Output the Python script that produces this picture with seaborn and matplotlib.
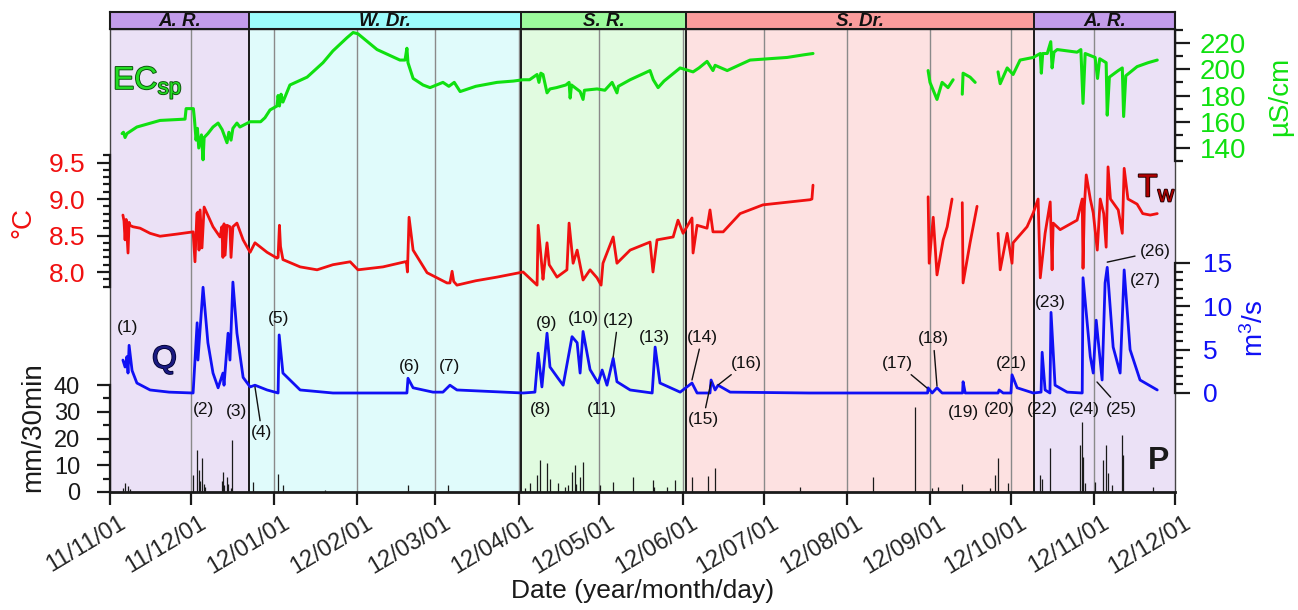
import numpy as np
import pandas as pd
import matplotlib
matplotlib.use('Agg')
import matplotlib.pyplot as plt
import matplotlib.patheffects as pe
import matplotlib.dates as mdates
from matplotlib.ticker import FixedLocator
from matplotlib.transforms import ScaledTranslation
import seaborn as sns

sns.set_theme(style='white')
plt.rcParams['font.family'] = ['Liberation Sans', 'DejaVu Sans']
plt.rcParams['mathtext.fontset'] = 'custom'
plt.rcParams['mathtext.rm'] = 'Liberation Sans'
plt.rcParams['mathtext.it'] = 'Liberation Sans:italic'
plt.rcParams['mathtext.bf'] = 'Liberation Sans:bold'

# ---------------- data ----------------
T0 = pd.Timestamp('2011-11-01')
month_ticks = pd.date_range('2011-11-01', '2012-12-01', freq='MS')
season_names = ['A. R.', 'W. Dr.', 'S. R.', 'S. Dr.', 'A. R.']
season_bounds = ['2011-11-01', '2011-12-22 16:00', '2012-04-02 00:00',
                 '2012-06-02 04:00', '2012-10-09 14:00', '2012-12-01']
season_band_colors = ['#c39ceb', '#9cfcfc', '#9cfa9c', '#fb9c9c', '#c39ceb']
season_bg_colors = ['#ebe1f6', '#e0fbfb', '#e1fbe0', '#fde1e1', '#ebe1f6']

# specific electrical conductance (uS/cm); NaN marks a data gap
ec_day = [4.5, 5.0, 5.6, 6.3, 10.0, 18.6, 27.9, 28.3, 31.0, 31.4, 32.0, 32.5, 33.0, 34.0, 34.6,
          35.0, 36.4, 38.3, 40.2, 41.7, 43.5, 44.2, 45.0, 45.7, 47.2, 48.3, 52.1, 56.0, 57.6, 59.5,
          62.1, 62.5, 63.0, 63.6, 64.3, 66.9, 73.3, 79.2, 82.9, 88.1, 90.4, 92.2, 99.3, 107.8, 109.7,
          110.4, 110.8, 112.7, 116.4, 119.0, 123.8, 126.0, 128.0, 130.2, 136.0, 143.9, 150.0, 153.6,
          156.0, 158.8, 159.5, 160.2, 161.0, 162.5, 163.6, 166.0, 169.5, 170.7, 171.1, 171.6, 174.8,
          175.9, 176.4, 181.1, 184.0, 186.7, 188.5, 189.0, 193.4, 200.8, 202.0, 203.8, 206.0, 212.0,
          216.8, 219.0, 222.0, 224.2, 225.0, 229.5, 238.0, 251.8, 258.0, 261.4,
          280.0,
          304.2, 304.9, 307.5, 309.4, 311.6, 313.5,
          315.0,
          316.9, 317.2, 319.8, 321.7,
          326.0,
          330.2, 331.0, 333.6, 335.8, 338.4, 343.3, 345.9, 346.3, 346.8, 348.5, 349.8, 350.3, 351.0,
          352.2, 359.6, 361.0, 361.8, 362.6, 366.3, 367.2, 368.0, 370.4, 370.8, 371.6, 374.9, 376.4,
          376.9, 377.7, 381.9, 386.0, 389.4]
ec_val = [151, 152, 148, 151, 156, 161, 162, 170, 170, 162, 146, 155, 140, 150, 131,
          148, 151, 156, 159, 154, 144, 152, 146, 155, 159, 156, 160, 160, 163, 169,
          172, 180, 172, 181, 175, 188, 194, 205, 214, 224, 228, 227, 215, 207, 207,
          216, 205, 193, 188, 186, 190, 187, 190, 183, 187, 190, 191, 192,
          192, 196, 190, 197, 196, 182, 185, 186, 188, 190, 178, 188, 183,
          177, 184, 185, 184, 190, 182, 187, 192, 199, 192, 186, 191, 201,
          198, 201, 206, 199, 203, 199, 207, 209, 211, 212,
          np.nan,
          199, 190, 177, 190, 186, 192,
          np.nan,
          181, 197, 194, 190,
          np.nan,
          198, 189, 201, 196, 207, 209, 212, 197, 212, 212, 221, 201, 213,
          215, 213, 215, 174, 212, 209, 193, 208, 205, 165, 194, 199, 201,
          164, 195, 202, 205, 207]

# water temperature (deg C)
tw_day = [4.8, 5.2, 5.6, 6.0, 6.7, 7.1, 7.4, 8.5, 11.2, 14.9, 18.6, 25.0, 30.9, 31.6, 32.3, 32.7,
          33.1, 33.5, 34.2, 35.0, 38.3, 40.9, 41.6, 42.0, 42.4, 42.8, 43.5, 44.6, 45.0, 45.7, 47.2,
          49.5, 52.1, 53.9, 58.4, 62.1, 62.5, 63.0, 63.4, 64.3, 70.7, 77.0, 82.9, 89.3, 92.2, 101.5,
          109.7, 110.2, 110.6, 111.2, 112.7, 117.9, 125.3, 126.4, 127.2, 127.8, 129.0, 136.0, 143.9,
          153.6, 158.8, 159.2, 160.6, 161.0, 162.5, 163.3, 166.2, 169.9, 170.7, 172.2, 173.7, 175.9,
          178.5, 181.1, 182.6, 183.3, 187.1, 188.5, 193.4, 200.8, 201.9, 203.4, 209.4, 211.2, 213.1,
          216.4, 216.8, 218.3, 222.0, 223.1, 224.2, 228.0, 234.3, 242.8, 260.3, 261.0, 261.4,
          280.0,
          304.2, 304.6, 306.1, 307.5, 309.8, 311.3, 313.1,
          315.0,
          316.9, 317.2, 319.8, 322.4,
          326.0,
          330.2, 331.0, 333.6, 335.4, 335.8, 341.0, 343.3, 345.1, 345.9, 347.7, 349.6, 350.3, 350.7,
          353.3, 359.6, 361.5, 361.8, 362.3, 363.0, 364.5, 365.6, 367.1, 368.2, 369.5, 370.4, 371.1,
          372.0, 374.9, 376.4, 377.1, 378.5, 381.9, 384.0, 386.8, 389.4]
tw_val = [8.78, 8.70, 8.44, 8.72, 8.26, 8.68, 8.64, 8.62, 8.60, 8.53, 8.49, 8.52, 8.55, 8.14, 8.80, 8.82,
          8.30, 8.85, 8.33, 8.89, 8.62, 8.48, 8.62, 8.20, 8.66, 8.23, 8.64, 8.62, 8.20, 8.62, 8.67,
          8.44, 8.27, 8.40, 8.27, 8.19, 8.20, 8.64, 8.35, 8.17, 8.07, 8.03, 8.10, 8.14, 8.03, 8.07,
          8.14, 8.14, 8.00, 8.75, 8.30, 7.99, 7.85, 7.85, 8.01, 7.87, 7.82, 7.88, 7.93,
          8.00, 7.82, 8.64, 8.07, 7.90, 8.40, 8.10, 7.93, 8.03, 8.67, 8.12, 8.30, 7.89,
          8.03, 7.92, 7.82, 8.12, 8.48, 8.12, 8.30, 8.41, 8.00, 8.44, 8.48, 8.71, 8.53,
          8.74, 8.26, 8.64, 8.60, 8.85, 8.55, 8.55, 8.80, 8.92, 8.99, 9.00, 9.19,
          np.nan,
          9.03, 8.12, 8.75, 7.96, 8.44, 8.62, 9.00,
          np.nan,
          8.95, 7.85, 8.40, 8.90,
          np.nan,
          8.53, 8.03, 8.53, 8.12, 8.40, 8.62, 8.81, 9.00, 7.92, 8.53, 8.96, 8.03, 8.67,
          8.58, 8.71, 9.00, 8.05, 8.90, 9.33, 9.00, 8.81, 8.30, 9.00, 8.80, 8.34, 9.44,
          9.00, 8.85, 8.53, 9.42, 9.00, 8.93, 8.80, 8.78, 8.80]

# discharge (m3/s)
q_day = [4.8, 5.6, 6.3, 6.7, 7.1, 8.2, 10.0, 14.9, 22.0, 30.9, 32.4, 32.7, 34.6, 36.4, 38.3, 40.2,
         42.0, 42.4, 43.9, 44.6, 45.7, 47.2, 49.5, 52.1, 53.9, 58.4, 62.5, 62.9, 64.3, 70.7, 82.9,
         110.4, 110.8, 112.7, 120.1, 123.8, 126.4, 129.0, 153.6, 158.0, 159.2, 160.6, 162.5, 163.6,
         166.6, 168.5, 171.8, 173.7, 174.8, 175.9, 178.5, 181.5, 183.0, 184.8, 187.1, 188.5, 193.4,
         201.6, 202.7, 204.5, 212.0, 216.4, 218.3, 223.1, 223.5, 225.0, 226.1, 230.6, 260.0, 304.0,
         304.2, 305.7, 307.5, 309.4, 317.0, 317.2, 318.0, 330.2, 330.6, 332.1, 335.0, 335.4, 337.3,
         343.3, 346.2, 346.6, 347.7, 349.5, 349.9, 351.4, 355.9, 361.5, 361.8, 364.5, 365.6, 366.7,
         368.9, 370.0, 370.8, 373.0, 375.6, 377.1, 379.3, 383.0, 389.4]
q_val = [3.8, 3.0, 4.2, 2.3, 5.5, 2.6, 1.15, 0.35, 0.1, 0.0, 8.1, 3.8, 12.2, 5.8, 2.3, 0.6,
         2.3, 0.9, 6.9, 3.8, 12.8, 6.9, 1.8, 0.7, 0.9, 0.35, 0.0, 6.7, 2.3, 0.35, 0.0,
         0.0, 1.7, 0.6, 0.1, 0.1, 0.9, 0.35, 0.0, 0.1, 4.6, 0.7, 6.9, 3.0,
         1.7, 0.9, 6.5, 5.8, 2.3, 7.1, 2.7, 1.15, 2.65, 0.9, 4.0, 1.3, 0.35,
         0.0, 5.3, 1.15, 0.1, 1.15, 0.0, 0.0, 1.5, 0.35, 0.9, 0.1, 0.0, 0.0,
         0.6, 0.0, 0.6, 0.0, 0.0, 1.3, 0.0, 0.0, 0.35, 0.0, 0.0, 2.1, 0.6,
         0.0, 0.1, 4.7, 0.35, 0.0, 9.3, 0.9, 0.1, 0.0, 13.3, 4.2, 2.3, 8.4,
         1.5, 12.7, 14.5, 5.3, 2.3, 14.2, 5.0, 1.5, 0.35]

# precipitation (mm/30min)
p_day = [4.8, 5.6, 6.7, 7.4, 30.9, 32.4, 33.1, 33.5, 34.2, 35.0, 35.5, 41.6, 42.0, 42.4, 43.5, 44.0,
         45.0, 45.4, 53.2, 62.5, 64.3, 80.0, 110.8, 125.7, 154.3, 156.2, 158.8, 159.9, 162.5, 163.6,
         166.6, 169.0, 170.3, 171.8, 172.9, 173.3, 174.8, 175.9, 182.2, 187.1, 194.5, 201.9, 202.3,
         207.1, 210.1, 216.4, 222.4, 225.0, 256.6, 283.8, 299.4, 305.7, 307.9, 316.9, 327.3, 329.1,
         330.2, 333.9, 345.9, 346.6, 349.6, 360.7, 361.5, 361.9, 362.6, 366.3, 369.3, 370.4, 371.1,
         372.6, 376.4, 376.7, 387.9]
p_val = [1.5, 3.4, 2.2, 1.0, 6.4, 15.7, 8.2, 4.0, 12.7, 3.0, 2.0, 4.0, 7.5, 2.5, 5.6, 3.0,
         1.5, 19.4, 3.7, 6.7, 2.5, 0.8, 2.6, 2.6, 1.5, 3.4, 6.4, 12.0, 10.8, 5.0,
         3.4, 2.0, 2.5, 7.5, 10.1, 3.0, 5.6, 11.2, 2.5, 3.7, 5.6, 4.5, 2.0,
         1.8, 4.5, 5.6, 6.0, 9.0, 1.8, 5.6, 31.8, 1.5, 1.8, 3.0, 1.5, 6.4,
         12.7, 3.5, 6.4, 5.0, 16.4, 17.6, 26.2, 13.0, 3.5, 3.7, 12.0, 17.6, 7.0,
         2.6, 21.3, 14.0, 1.8]

# flood-event labels: label position and (optional) leader tip, on the discharge scale
ev_labels = ['(%d)' % i for i in range(1, 28)]
ev_day = [6.7, 34.6, 47.2, 56.5, 62.8, 111.2, 126.4, 159.9, 162.5, 175.9, 183.0, 188.9, 202.3, 220.2,
          220.5, 236.5, 292.7, 306.1, 317.2, 330.6, 335.1, 346.6, 349.6, 362.2, 376.0, 388.6, 384.9]
ev_val = [7.5, -1.96, -2.08, -4.6, 8.65, 3.0, 3.0, -1.85, 8.07, 8.65, -1.96, 8.4, 6.46, 6.46,
          -3.1, 3.46, 3.46, 6.3, -2.2, -1.85, 3.46, -1.85, 10.4, -1.85, -1.85, 16.3, 13.0]
ev_tip_day = [None, None, None, 53.9, None, None, None, None, None, None, None, 187.1, None, 216.4,
              223.5, 226.1, 303.8, 307.5, None, None, None, None, None, None, 367.0, 370.8, None]
ev_tip_val = [None, None, None, 0.7, None, None, None, None, None, None, None, 4.15, None, 1.5,
              1.27, 0.92, 0.58, 0.8, None, None, None, None, None, None, 1.27, 15.1, None]


def to_date(days):
    return T0 + pd.to_timedelta(np.asarray(days, dtype=float), unit='D')


def frame(days, vals):
    v = np.asarray(vals, dtype=float)
    seg = np.cumsum(np.isnan(v))
    df = pd.DataFrame({'date': to_date(days), 'val': v, 'seg': seg})
    return df.dropna()


# ---------------- layout ----------------
W_PX, H_PX = 1298, 610
fig = plt.figure(figsize=(W_PX / 100, H_PX / 100), dpi=100)


def fx(x):
    return x / W_PX


def fy(y):
    return 1 - y / H_PX


X0, X1, YT, YB = 110, 1175, 29, 492
ax_bg = fig.add_axes([fx(X0), fy(YB), fx(X1) - fx(X0), fy(YT) - fy(YB)])
AX_H = YB - YT
xmin, xmax = pd.Timestamp('2011-11-01'), pd.Timestamp('2012-12-01')

sb = [pd.Timestamp(s) for s in season_bounds]
for i in range(len(season_names)):
    ax_bg.axvspan(sb[i], sb[i + 1], color=season_bg_colors[i], lw=0, zorder=0)
for m in month_ticks[1:-1]:
    ax_bg.axvline(m, color='#8a8a8a', lw=1.0, zorder=1)
for b in sb[1:-1]:
    ax_bg.axvline(b, color='k', lw=1.4, zorder=2)
ax_bg.set_xlim(xmin, xmax)
ax_bg.set_ylim(0, 1)
ax_bg.set_yticks([])
ax_bg.set_xticks(month_ticks)
ax_bg.xaxis.set_major_formatter(mdates.DateFormatter('%y/%m/%d'))
ax_bg.tick_params(axis='x', which='major', bottom=True, direction='out', length=9.5, width=1.6,
                  color='k', labelsize=17, pad=5)
for lab in ax_bg.get_xticklabels():
    lab.set_rotation(31)
    lab.set_ha('right')
    lab.set_va('top')
    lab.set_rotation_mode('anchor')
    lab.set_transform(lab.get_transform() + ScaledTranslation(0.08, 0, fig.dpi_scale_trans))
for s in ['left', 'right', 'top']:
    ax_bg.spines[s].set_color('#444444')
    ax_bg.spines[s].set_linewidth(1.0)
ax_bg.spines['bottom'].set_color('k')
ax_bg.spines['bottom'].set_linewidth(2.0)

# twin axes for every series
ax_p = ax_bg.twinx()
ax_t = ax_bg.twinx()
ax_ec = ax_bg.twinx()
ax_q = ax_bg.twinx()

GREEN, RED, BLUE = '#10e010', '#f01010', '#1010f5'

ax_p.vlines(to_date(p_day), 0, p_val, color='k', lw=0.9)

df_ec = frame(ec_day, ec_val)
sns.lineplot(data=df_ec, x='date', y='val', units='seg', estimator=None, sort=False,
             color=GREEN, lw=2.2, ax=ax_ec, legend=False)
df_t = frame(tw_day, tw_val)
sns.lineplot(data=df_t, x='date', y='val', units='seg', estimator=None, sort=False,
             color=RED, lw=2.0, ax=ax_t, legend=False)
df_q = frame(q_day, q_val)
sns.lineplot(data=df_q, x='date', y='val', units='seg', estimator=None, sort=False,
             color=BLUE, lw=2.0, ax=ax_q, legend=False)


def side_axis(ax, side, ref_val, ref_px, px_per_unit, bounds, majors, minors, fmt,
              color, size, pad, maj_len, min_len):
    bottom = ref_val - (YB - ref_px) / px_per_unit
    ax.set_ylim(bottom, bottom + AX_H / px_per_unit)
    ax.set_xlabel('')
    ax.set_ylabel('')
    for s in ['left', 'right', 'top', 'bottom']:
        ax.spines[s].set_visible(False)
    sp = ax.spines[side]
    sp.set_visible(True)
    sp.set_bounds(*bounds)
    sp.set_color('k')
    sp.set_linewidth(1.6)
    if side == 'left':
        ax.yaxis.tick_left()
    else:
        ax.yaxis.tick_right()
    ax.yaxis.set_major_locator(FixedLocator(majors))
    ax.yaxis.set_minor_locator(FixedLocator(minors))
    ax.set_yticklabels([fmt.format(v) for v in majors])
    ax.tick_params(axis='y', which='major', direction='out', length=maj_len, width=1.6,
                   color='k', labelsize=size, labelcolor=color, pad=pad)
    ax.tick_params(axis='y', which='minor', direction='out', length=min_len, width=1.6, color='k')
    ax.grid(False)


side_axis(ax_p, 'left', 0, 492, 2.675, (0, 40), [0, 10, 20, 30, 40], [5, 15, 25, 35],
          '{:.0f}', 'k', 17, 12, 9.5, 5)
side_axis(ax_t, 'left', 8.0, 272, 73.0, (7.8, 9.6), [8.0, 8.5, 9.0, 9.5],
          [7.8, 7.9, 8.1, 8.2, 8.3, 8.4, 8.6, 8.7, 8.8, 8.9, 9.1, 9.2, 9.3, 9.4, 9.6],
          '{:.1f}', RED, 19, 8, 9.5, 5)
side_axis(ax_ec, 'right', 220, 43, 1.3125, (130, 230), [140, 160, 180, 200, 220],
          [130, 150, 170, 190, 210, 230], '{:.0f}', GREEN, 20, 7, 11, 6)
side_axis(ax_q, 'right', 0, 393, 8.667, (0, 15), [0, 5, 10, 15],
          [1, 2, 3, 4, 6, 7, 8, 9, 11, 12, 13, 14], '{:.0f}', BLUE, 19, 9, 11, 6)
ax_bg.set_xlim(xmin, xmax)

# event labels
for i, lab in enumerate(ev_labels):
    pos = (to_date([ev_day[i]])[0], ev_val[i])
    if ev_tip_day[i] is None:
        ax_q.text(pos[0], pos[1], lab, ha='center', va='center', fontsize=12.5, color='#111111')
    else:
        tip = (to_date([ev_tip_day[i]])[0], ev_tip_val[i])
        ax_q.annotate(lab, xy=tip, xytext=pos, ha='center', va='center', fontsize=12.5,
                      color='#111111',
                      arrowprops=dict(arrowstyle='-', color='#111111', lw=1.0,
                                      shrinkA=1, shrinkB=0))

# season band on top
ax_band = fig.add_axes([fx(X0), fy(YT), fx(X1) - fx(X0), fy(12) - fy(YT)])
for i, name in enumerate(season_names):
    ax_band.axvspan(sb[i], sb[i + 1], color=season_band_colors[i], lw=0)
    mid = sb[i] + (sb[i + 1] - sb[i]) / 2
    ax_band.text(mid, 0.42, name, ha='center', va='center', fontsize=13.5,
                 fontweight='bold', style='italic', color='#111111')
for b in sb[1:-1]:
    ax_band.axvline(b, color='k', lw=1.4)
ax_band.set_xlim(xmin, xmax)
ax_band.set_ylim(0, 1)
ax_band.set_xticks([])
ax_band.set_yticks([])
for s in ax_band.spines.values():
    s.set_color('k')
    s.set_linewidth(1.5)

# axis titles
fig.text(fx(23), fy(222), '°C', rotation=90, ha='center', va='center', fontsize=20, color=RED)
fig.text(fx(33), fy(427), 'mm/30min', rotation=90, ha='center', va='center', fontsize=20, color='k')
fig.text(fx(1280), fy(96), 'µS/cm', rotation=90, ha='center', va='center', fontsize=20, color=GREEN)
fig.text(fx(1255), fy(328), r'm$^\mathregular{3}$/s', rotation=90, ha='center', va='center',
         fontsize=20, color=BLUE)
fig.text(fx(643), fy(591), 'Date (year/month/day)', ha='center', va='center', fontsize=19, color='k')

# series names
fig.text(fx(113), fy(83), r'EC$_{\mathregular{sp}}$', ha='left', va='center', fontsize=23,
         color='#22dd22', path_effects=[pe.withStroke(linewidth=1.3, foreground='#0b4f0b')])
fig.text(fx(1138), fy(188), r'T$_{\mathregular{w}}$', ha='left', va='center', fontsize=23,
         color='#b00000', path_effects=[pe.withStroke(linewidth=1.3, foreground='#200000')])
fig.text(fx(152), fy(360), 'Q', ha='left', va='center', fontsize=23, color='#1a1a80',
         path_effects=[pe.withStroke(linewidth=1.2, foreground='#000030')])
fig.text(fx(1148), fy(461), 'P', ha='left', va='center', fontsize=23, color='k', fontweight='bold')

fig.savefig('out.png', dpi=100)
